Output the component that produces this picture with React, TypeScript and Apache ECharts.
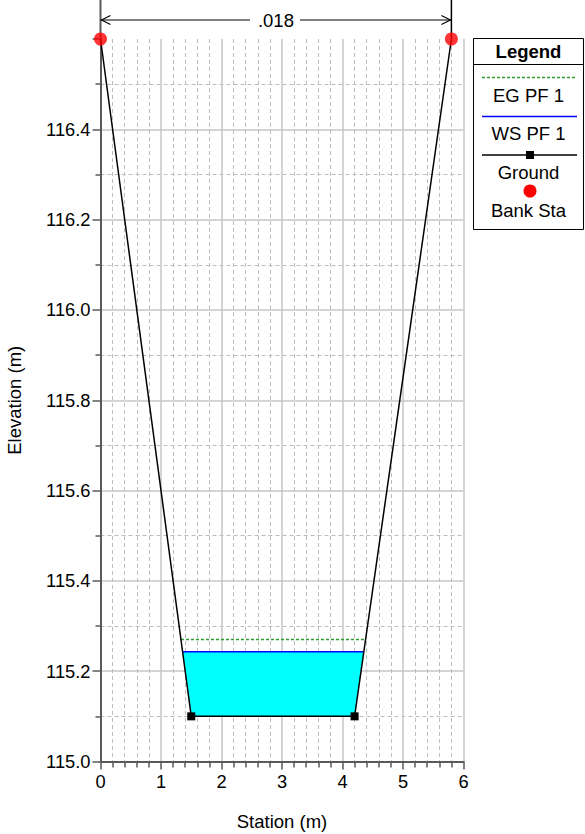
import React, { useEffect, useRef } from "react";
import * as echarts from "echarts";

const groundPts: [number, number][] = [
  [0, 116.6],
  [1.5, 115.1],
  [4.2, 115.1],
  [5.8, 116.6],
];
const bankSta: [number, number][] = [
  [0, 116.6],
  [5.8, 116.6],
];
const wsElev = 115.243;
const egElev = 115.27;
const dimLabel = ".018";
const legendItems = ["EG PF 1", "WS PF 1", "Ground", "Bank Sta"];

const FONT = "Liberation Sans, Arial, Helvetica, sans-serif";

function crossing(elev: number, a: [number, number], b: [number, number]) {
  const t = (elev - a[1]) / (b[1] - a[1]);
  return a[0] + t * (b[0] - a[0]);
}

export default function App() {
  const ref = useRef<HTMLDivElement>(null);
  useEffect(() => {
    document.body.style.margin = "0";
    if (!ref.current) return;
    const chart = echarts.init(ref.current, null, { renderer: "svg" });

    const wsL = crossing(wsElev, groundPts[0], groundPts[1]);
    const wsR = crossing(wsElev, groundPts[2], groundPts[3]);
    const egL = crossing(egElev, groundPts[0], groundPts[1]);
    const egR = crossing(egElev, groundPts[2], groundPts[3]);
    const waterPoly: [number, number][] = [
      [wsL, wsElev],
      groundPts[1],
      groundPts[2],
      [wsR, wsElev],
    ];

    const axisColor = "#5a5a5a";
    const majorGrid = { show: true, lineStyle: { color: "#c6c6c6", width: 1.5 } };
    const minorGrid = {
      show: true,
      lineStyle: { color: "#bdbdbd", width: 1, type: [4, 3] as any },
    };

    chart.setOption({
      animation: false,
      textStyle: { fontFamily: FONT },
      grid: {
        left: 100.5,
        top: 39,
        width: 363,
        height: 722.5,
        containLabel: false,
        outerBoundsMode: "none",
      },
      xAxis: {
        type: "value",
        min: 0,
        max: 6,
        interval: 1,
        name: "Station (m)",
        nameLocation: "middle",
        nameGap: 50,
        nameTextStyle: { fontSize: 18.5, color: "#000", fontFamily: FONT },
        axisLine: { show: true, onZero: false, lineStyle: { color: axisColor, width: 2 } },
        axisTick: { show: true, length: 8, lineStyle: { color: axisColor, width: 1.5 } },
        minorTick: { show: true, splitNumber: 5, length: 6, lineStyle: { color: axisColor, width: 1.5 } },
        axisLabel: { fontSize: 18.3, color: "#000", margin: 11, fontFamily: FONT },
        splitLine: { ...majorGrid, showMinLine: false },
        minorSplitLine: minorGrid,
      },
      yAxis: {
        type: "value",
        min: 115,
        max: 116.6,
        interval: 0.2,
        name: "Elevation (m)",
        nameLocation: "middle",
        nameGap: 77,
        nameTextStyle: { fontSize: 18.5, color: "#000", fontFamily: FONT },
        axisLine: { show: true, lineStyle: { color: axisColor, width: 2 } },
        axisTick: { show: true, length: 8, lineStyle: { color: axisColor, width: 1.5 } },
        minorTick: { show: true, splitNumber: 2, length: 5, lineStyle: { color: axisColor, width: 1.5 } },
        axisLabel: {
          fontSize: 18.3,
          color: "#000",
          margin: 10,
          fontFamily: FONT,
          showMaxLabel: false,
          formatter: (v: number) => v.toFixed(1),
        },
        splitLine: { ...majorGrid, showMinLine: false, showMaxLine: false },
        minorSplitLine: minorGrid,
      },
      series: [
        {
          type: "custom",
          name: "water",
          z: 1,
          data: waterPoly,
          encode: { x: 0, y: 1 },
          renderItem: (params: any, api: any) => {
            if (params.dataIndex !== 0) return null;
            return {
              type: "polygon",
              shape: { points: waterPoly.map((p) => api.coord(p)) },
              style: { fill: "#00ffff", stroke: "none" },
            };
          },
          silent: true,
        },
        {
          type: "line",
          name: "EG PF 1",
          z: 3,
          data: [
            [egL, egElev],
            [egR, egElev],
          ],
          symbol: "none",
          lineStyle: { color: "#2f9a2f", width: 1.5, type: [3, 2] as any },
        },
        {
          type: "line",
          name: "WS PF 1",
          z: 3,
          data: [
            [wsL, wsElev],
            [wsR, wsElev],
          ],
          symbol: "none",
          lineStyle: { color: "#0000ff", width: 1.5 },
        },
        {
          type: "line",
          name: "Ground",
          z: 4,
          data: groundPts.map((p, i) =>
            i === 0 || i === groundPts.length - 1
              ? { value: p, symbol: "none" }
              : { value: p }
          ),
          symbol: "rect",
          symbolSize: 8,
          itemStyle: { color: "#000" },
          lineStyle: { color: "#000", width: 1.5 },
        },
        {
          type: "scatter",
          name: "Bank Sta",
          z: 5,
          data: bankSta,
          symbol: "circle",
          symbolSize: 13,
          itemStyle: { color: "#ff0000" },
        },
      ],
    });

    const pL = chart.convertToPixel({ gridIndex: 0 }, bankSta[0]) as number[];
    const pR = chart.convertToPixel({ gridIndex: 0 }, bankSta[1]) as number[];
    const xl = pL[0];
    const xr = pR[0];
    const yTop = pL[1];
    const ay = 20;
    const mid = (xl + xr) / 2;

    const lx0 = 473;
    const lx1 = 584;
    const lc = (lx0 + lx1) / 2;
    const txt = (s: string, y: number, bold = false) => ({
      type: "text",
      z: 10,
      style: {
        text: s,
        x: lc,
        y,
        align: "center",
        verticalAlign: "middle",
        fontSize: 18.5,
        fontWeight: bold ? "bold" : "normal",
        fontFamily: FONT,
        fill: "#000",
      },
    });

    chart.setOption({
      graphic: [
        { type: "line", shape: { x1: xl, y1: 0, x2: xl, y2: yTop }, style: { stroke: axisColor, lineWidth: 2 } },
        { type: "line", shape: { x1: xr, y1: 0, x2: xr, y2: yTop }, style: { stroke: "#000", lineWidth: 1.5 } },
        { type: "line", shape: { x1: xl, y1: ay, x2: mid - 26, y2: ay }, style: { stroke: "#000", lineWidth: 1.2 } },
        { type: "line", shape: { x1: mid + 24, y1: ay, x2: xr, y2: ay }, style: { stroke: "#000", lineWidth: 1.2 } },
        { type: "polyline", shape: { points: [[xl + 10, ay - 4.5], [xl + 1, ay], [xl + 10, ay + 4.5]] }, style: { stroke: "#000", lineWidth: 1.2, fill: "none" } },
        { type: "polyline", shape: { points: [[xr - 10, ay - 4.5], [xr - 1, ay], [xr - 10, ay + 4.5]] }, style: { stroke: "#000", lineWidth: 1.2, fill: "none" } },
        {
          type: "text",
          style: {
            text: dimLabel,
            x: mid,
            y: ay,
            align: "center",
            verticalAlign: "middle",
            fontSize: 18.5,
            fontFamily: FONT,
            fill: "#000",
          },
        },
        // legend box
        { type: "rect", shape: { x: lx0 + 0.5, y: 38.5, width: lx1 - lx0 - 1, height: 191 }, style: { fill: "#fff", stroke: "#000", lineWidth: 1 }, z: 9 },
        { type: "line", shape: { x1: lx0, y1: 64.5, x2: lx1, y2: 64.5 }, style: { stroke: "#000", lineWidth: 1 }, z: 10 },
        txt("Legend", 51.5, true),
        { type: "line", shape: { x1: 482, y1: 77.5, x2: 577, y2: 77.5 }, style: { stroke: "#2f9a2f", lineWidth: 1.5, lineDash: [3, 2] }, z: 10 },
        txt(legendItems[0], 95),
        { type: "line", shape: { x1: 482, y1: 116.5, x2: 577, y2: 116.5 }, style: { stroke: "#0000ff", lineWidth: 1.5 }, z: 10 },
        txt(legendItems[1], 133.5),
        { type: "line", shape: { x1: 482, y1: 155, x2: 577, y2: 155 }, style: { stroke: "#000", lineWidth: 1.5 }, z: 10 },
        { type: "rect", shape: { x: 526, y: 151, width: 8, height: 8 }, style: { fill: "#000" }, z: 10 },
        txt(legendItems[2], 172),
        { type: "circle", shape: { cx: 530, cy: 191, r: 6.5 }, style: { fill: "#ff0000" }, z: 10 },
        txt(legendItems[3], 210),
      ],
    });

    return () => chart.dispose();
  }, []);
  return <div ref={ref} style={{ width: 585, height: 834 }} />;
}
